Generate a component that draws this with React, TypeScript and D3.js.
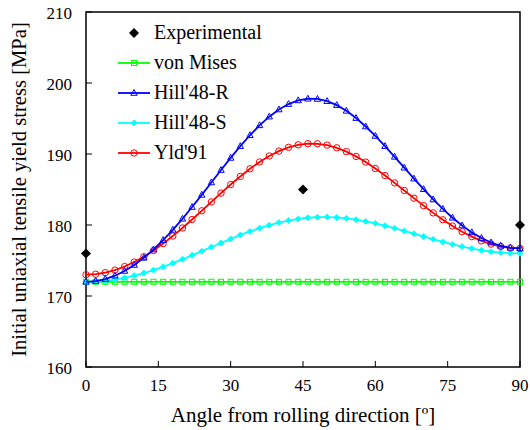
import React from "react";
import * as d3 from "d3";

const angles = d3.range(0, 91, 2);

const vonMises = angles.map(() => 172);

const hillR = [
  172.0, 172.1, 172.39, 172.86, 173.53, 174.37, 175.38, 176.55, 177.87, 179.32,
  180.87, 182.53, 184.24, 185.99, 187.74, 189.45, 191.1, 192.64, 194.04, 195.26,
  196.27, 197.03, 197.55, 197.78, 197.75, 197.44, 196.88, 196.08, 195.06, 193.87,
  192.54, 191.1, 189.6, 188.07, 186.53, 185.04, 183.6, 182.26, 181.02, 179.92,
  178.96, 178.16, 177.53, 177.07, 176.79, 176.7,
];

const hillS = [
  172.0, 172.04, 172.14, 172.32, 172.56, 172.87, 173.23, 173.65, 174.12, 174.63,
  175.17, 175.73, 176.31, 176.9, 177.47, 178.04, 178.59, 179.09, 179.56, 179.98,
  180.34, 180.63, 180.86, 181.02, 181.1, 181.12, 181.06, 180.94, 180.75, 180.51,
  180.23, 179.9, 179.54, 179.16, 178.77, 178.38, 178.0, 177.62, 177.27, 176.96,
  176.68, 176.44, 176.25, 176.11, 176.03, 176.0,
];

const yld91 = [
  173.0, 173.07, 173.29, 173.65, 174.15, 174.78, 175.53, 176.4, 177.38, 178.44,
  179.58, 180.77, 182.0, 183.25, 184.49, 185.7, 186.84, 187.92, 188.88, 189.72,
  190.41, 190.94, 191.29, 191.46, 191.44, 191.25, 190.87, 190.34, 189.66, 188.86,
  187.95, 186.97, 185.93, 184.86, 183.78, 182.73, 181.71, 180.74, 179.86, 179.05,
  178.36, 177.77, 177.31, 176.97, 176.77, 176.7,
];

const expAngles = [0, 45, 90];
const expValues = [176, 185, 180];

const xTicks = [0, 15, 30, 45, 60, 75, 90];
const yTicks = [160, 170, 180, 190, 200, 210];

const legendNames = ["Experimental", "von Mises", "Hill'48-R", "Hill'48-S", "Yld'91"];

const W = 530;
const H = 430;
const M = { left: 86, right: 10, top: 12, bottom: 63 };

export default function App() {
  const x = d3.scaleLinear().domain([0, 90]).range([M.left, W - M.right]);
  const y = d3.scaleLinear().domain([160, 210]).range([H - M.bottom, M.top]);
  const line = d3
    .line<number>()
    .x((_, i) => x(angles[i]))
    .y((d) => y(d));

  const font = "Liberation Serif";

  const square = (cx: number, cy: number, key: string | number, color: string) => (
    <rect key={key} x={cx - 2.5} y={cy - 2.5} width={5} height={5} fill="none" stroke={color} strokeWidth={1} />
  );
  const triangle = (cx: number, cy: number, key: string | number, color: string) => (
    <path
      key={key}
      d={`M${cx},${cy - 3.5}L${cx + 3.2},${cy + 2.3}L${cx - 3.2},${cy + 2.3}Z`}
      fill="none"
      stroke={color}
      strokeWidth={1}
    />
  );
  const smallDiamond = (cx: number, cy: number, key: string | number, color: string) => (
    <path
      key={key}
      d={`M${cx},${cy - 3}L${cx + 3},${cy}L${cx},${cy + 3}L${cx - 3},${cy}Z`}
      fill={color}
      stroke={color}
      strokeWidth={0.8}
    />
  );
  const circle = (cx: number, cy: number, key: string | number, color: string) => (
    <circle key={key} cx={cx} cy={cy} r={3.2} fill="none" stroke={color} strokeWidth={1} />
  );
  const bigDiamond = (cx: number, cy: number, key: string | number) => (
    <path key={key} d={`M${cx},${cy - 5}L${cx + 5},${cy}L${cx},${cy + 5}L${cx - 5},${cy}Z`} fill="#000" />
  );

  const series = [
    { data: vonMises, color: "#00ff00", marker: square },
    { data: hillS, color: "#00ffff", marker: smallDiamond },
    { data: yld91, color: "#ff0000", marker: circle },
    { data: hillR, color: "#0000ff", marker: triangle },
  ];

  const legendSeries = [
    { color: "#00ff00", marker: square },
    { color: "#0000ff", marker: triangle },
    { color: "#00ffff", marker: smallDiamond },
    { color: "#ff0000", marker: circle },
  ];

  const lx = 118;
  const lx2 = 150;
  const ly0 = 33;
  const lstep = 30;

  return (
    <svg width={W} height={H} style={{ position: "absolute", left: 0, top: 0, background: "#fff" }}>
      <rect x={0} y={0} width={W} height={H} fill="#fff" />
      <rect
        x={x(0)}
        y={y(210)}
        width={x(90) - x(0)}
        height={y(160) - y(210)}
        fill="none"
        stroke="#000"
        strokeWidth={1.5}
      />
      {xTicks.map((t) => (
        <g key={"xt" + t}>
          <line x1={x(t)} x2={x(t)} y1={y(160)} y2={y(160) - 6} stroke="#000" strokeWidth={1} />
          <text x={x(t)} y={y(160) + 24} textAnchor="middle" fontFamily={font} fontSize={17}>
            {t}
          </text>
        </g>
      ))}
      {yTicks.map((t) => (
        <g key={"yt" + t}>
          <line x1={x(0)} x2={x(0) + 6} y1={y(t)} y2={y(t)} stroke="#000" strokeWidth={1} />
          <text x={x(0) - 14} y={y(t) + 6.5} textAnchor="end" fontFamily={font} fontSize={17}>
            {t}
          </text>
        </g>
      ))}
      <text x={(x(0) + x(90)) / 2} y={422} textAnchor="middle" fontFamily={font} fontSize={21}>
        Angle from rolling direction [º]
      </text>
      <text
        transform={`translate(26,${(y(160) + y(210)) / 2}) rotate(-90)`}
        textAnchor="middle"
        fontFamily={font}
        fontSize={20.6}
      >
        Initial uniaxial tensile yield stress [MPa]
      </text>
      {series.map((s, si) => (
        <g key={"s" + si}>
          <path d={line(s.data) || ""} fill="none" stroke={s.color} strokeWidth={1.8} />
          {s.data.map((v, i) => s.marker(x(angles[i]), y(v), i, s.color))}
        </g>
      ))}
      {expAngles.map((a, i) => bigDiamond(x(a), y(expValues[i]), "e" + i))}
      <g>
        {bigDiamond((lx + lx2) / 2, ly0, "le")}
        <text x={154} y={ly0 + 6} fontFamily={font} fontSize={20}>
          {legendNames[0]}
        </text>
        {legendSeries.map((s, i) => {
          const ly = ly0 + lstep * (i + 1);
          return (
            <g key={"lg" + i}>
              <line x1={lx} x2={lx2} y1={ly} y2={ly} stroke={s.color} strokeWidth={1.8} />
              {s.marker((lx + lx2) / 2, ly, "m", s.color)}
              <text x={154} y={ly + 6} fontFamily={font} fontSize={20}>
                {legendNames[i + 1]}
              </text>
            </g>
          );
        })}
      </g>
    </svg>
  );
}
